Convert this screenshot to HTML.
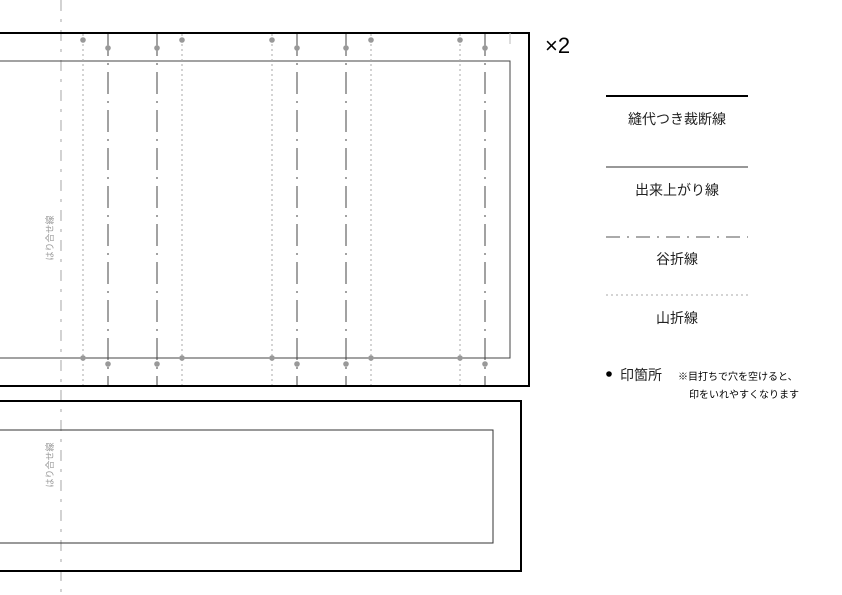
<!DOCTYPE html>
<html><head><meta charset="utf-8"><style>
body{margin:0;background:#fff;}
svg{display:block;font-family:"Liberation Sans","Noto Sans CJK JP",sans-serif;}
</style></head><body>
<svg width="842" height="595" viewBox="0 0 842 595" xmlns="http://www.w3.org/2000/svg">
<!-- glue line -->
<line x1="61" y1="0" x2="61" y2="595" stroke="#bbb" stroke-width="1.3" stroke-dasharray="11,8,3,8"/>
<!-- top piece -->
<rect x="-5" y="33" width="534" height="353" fill="none" stroke="#000" stroke-width="2"/>
<rect x="-5" y="61" width="515" height="297" fill="none" stroke="#444" stroke-width="1"/>
<line x1="510" y1="33" x2="510" y2="44" stroke="#bbb" stroke-width="1"/>
<g stroke="#aaa" stroke-width="1" stroke-dasharray="2,3">
<line x1="83" y1="34" x2="83" y2="385"/><line x1="182" y1="34" x2="182" y2="385"/>
<line x1="272" y1="34" x2="272" y2="385"/><line x1="371" y1="34" x2="371" y2="385"/>
<line x1="460" y1="34" x2="460" y2="385"/>
</g>
<g stroke="#444" stroke-width="1" stroke-dasharray="22,7,2,7">
<line x1="108" y1="34" x2="108" y2="385"/><line x1="157" y1="34" x2="157" y2="385"/>
<line x1="297" y1="34" x2="297" y2="385"/><line x1="346" y1="34" x2="346" y2="385"/>
<line x1="485" y1="34" x2="485" y2="385"/>
</g>
<g fill="#999">
<circle cx="83" cy="40" r="2.8"/><circle cx="182" cy="40" r="2.8"/><circle cx="272" cy="40" r="2.8"/><circle cx="371" cy="40" r="2.8"/><circle cx="460" cy="40" r="2.8"/>
<circle cx="108" cy="48" r="2.8"/><circle cx="157" cy="48" r="2.8"/><circle cx="297" cy="48" r="2.8"/><circle cx="346" cy="48" r="2.8"/><circle cx="485" cy="48" r="2.8"/>
<circle cx="83" cy="358" r="2.8"/><circle cx="182" cy="358" r="2.8"/><circle cx="272" cy="358" r="2.8"/><circle cx="371" cy="358" r="2.8"/><circle cx="460" cy="358" r="2.8"/>
<circle cx="108" cy="364" r="2.8"/><circle cx="157" cy="364" r="2.8"/><circle cx="297" cy="364" r="2.8"/><circle cx="346" cy="364" r="2.8"/><circle cx="485" cy="364" r="2.8"/>
</g>
<text x="0" y="0" font-size="9" fill="#999" text-anchor="middle" transform="translate(53,238) rotate(-90)">はり合せ線</text>
<!-- bottom piece -->
<rect x="-5" y="401" width="526" height="170" fill="none" stroke="#000" stroke-width="2"/>
<rect x="-5" y="430" width="498" height="113" fill="none" stroke="#333" stroke-width="1"/>
<text x="0" y="0" font-size="9" fill="#999" text-anchor="middle" transform="translate(53,465) rotate(-90)">はり合せ線</text>
<text x="545" y="53" font-size="22" fill="#000" font-weight="300">×2</text>
<!-- legend -->
<line x1="606" y1="96" x2="748" y2="96" stroke="#000" stroke-width="2"/>
<text x="677" y="124" font-size="14" text-anchor="middle" fill="#222">縫代つき裁断線</text>
<line x1="606" y1="167" x2="748" y2="167" stroke="#777" stroke-width="1.5"/>
<text x="677" y="195" font-size="14" text-anchor="middle" fill="#222">出来上がり線</text>
<line x1="606" y1="237" x2="748" y2="237" stroke="#555" stroke-width="1" stroke-dasharray="14,7,2,7"/>
<text x="677" y="264" font-size="14" text-anchor="middle" fill="#222">谷折線</text>
<line x1="606" y1="295" x2="748" y2="295" stroke="#aaa" stroke-width="1" stroke-dasharray="2,3"/>
<text x="677" y="323" font-size="14" text-anchor="middle" fill="#222">山折線</text>
<circle cx="609" cy="374" r="2.8" fill="#000"/>
<text x="620" y="380" font-size="14" fill="#222">印箇所</text>
<text x="678" y="380" font-size="10" fill="#000">※目打ちで穴を空けると、</text>
<text x="689" y="398" font-size="10" fill="#000">印をいれやすくなります</text>
</svg>
</body></html>
